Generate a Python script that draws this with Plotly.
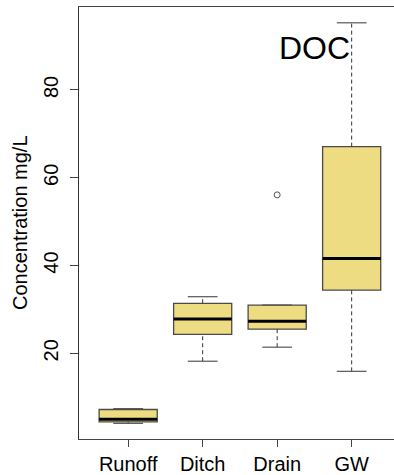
import plotly.graph_objects as go

categories = ["Runoff", "Ditch", "Drain", "GW"]
positions = [1, 2, 3, 4]
lower_whisker = [4.05, 18.2, 21.4, 15.9]
q1 = [4.4, 24.3, 25.5, 34.4]
median = [5.0, 27.8, 27.3, 41.6]
q3 = [7.2, 31.4, 31.0, 67.1]
upper_whisker = [7.4, 32.9, 31.0, 95.3]
outlier_x = [3]
outlier_y = [56.1]
y_ticks = [20, 40, 60, 80]

FILL = "#EEDC82"
EDGE = "#4a4a4a"
BOXW = 0.78
CAPW = 0.4
FONT = "Liberation Sans, Arial, sans-serif"

fig = go.Figure()

# whiskers (dashed) and caps
for p, lo, a, b, hi in zip(positions, lower_whisker, q1, q3, upper_whisker):
    if hi > b:
        fig.add_trace(go.Scatter(x=[p, p], y=[b, hi], mode="lines",
                                 line=dict(color="#333333", width=1, dash="4px,3px"),
                                 showlegend=False, hoverinfo="skip"))
    if lo < a:
        fig.add_trace(go.Scatter(x=[p, p], y=[lo, a], mode="lines",
                                 line=dict(color="#333333", width=1, dash="4px,3px"),
                                 showlegend=False, hoverinfo="skip"))
    fig.add_trace(go.Scatter(x=[p - CAPW / 2, p + CAPW / 2], y=[hi, hi], mode="lines",
                             line=dict(color="#555555", width=1.2),
                             showlegend=False, hoverinfo="skip"))
    fig.add_trace(go.Scatter(x=[p - CAPW / 2, p + CAPW / 2], y=[lo, lo], mode="lines",
                             line=dict(color="#555555", width=1.2),
                             showlegend=False, hoverinfo="skip"))

# boxes (body only)
fig.add_trace(go.Box(x=positions, q1=q1, median=median, q3=q3,
                     lowerfence=q1, upperfence=q3, width=BOXW,
                     fillcolor=FILL, line=dict(color=EDGE, width=1.3),
                     whiskerwidth=0, boxpoints=False, showlegend=False))

# thick medians
for p, m in zip(positions, median):
    fig.add_trace(go.Scatter(x=[p - BOXW / 2, p + BOXW / 2], y=[m, m], mode="lines",
                             line=dict(color="black", width=3),
                             showlegend=False, hoverinfo="skip"))

# outliers
fig.add_trace(go.Scatter(x=outlier_x, y=outlier_y, mode="markers",
                         marker=dict(symbol="circle-open", size=6, color="#555555",
                                     line=dict(width=1)),
                         showlegend=False, hoverinfo="skip"))

fig.add_annotation(x=3.5, y=89.6, xref="x", yref="y", text="DOC", showarrow=False,
                   font=dict(family=FONT, size=32, color="black"))

fig.add_annotation(x=-59 / 315, y=0.5, xref="paper", yref="paper",
                   xanchor="center", yanchor="middle",
                   text="Concentration mg/L", textangle=-90, showarrow=False,
                   font=dict(family=FONT, size=20, color="black"))

fig.update_layout(
    width=394, height=475,
    margin=dict(l=79, r=0, t=7, b=36, autoexpand=False),
    paper_bgcolor="white", plot_bgcolor="white",
    font=dict(family=FONT, size=20, color="black"),
    xaxis=dict(range=[0.34, 0.34 + 315 / 74.5], tickmode="array",
               tickvals=positions, ticktext=categories,
               showline=True, linecolor="#444444", linewidth=1.2, mirror=True,
               ticks="outside", ticklen=7, tickcolor="#444444",
               showgrid=False, zeroline=False, tickfont=dict(size=20),
               automargin=False),
    yaxis=dict(range=[0.48, 98.9], tickmode="array", tickvals=y_ticks,
               showline=True, linecolor="#333333", linewidth=1.2,
               ticks="outside", ticklen=8, tickcolor="#444444",
               tickangle=-90, showgrid=False, zeroline=False,
               tickfont=dict(size=20), ticklabelstandoff=4, automargin=False),
)

fig.write_html("out.html", config={"displayModeBar": False},
               post_script="document.body.style.margin='0';document.body.style.overflow='hidden';")
